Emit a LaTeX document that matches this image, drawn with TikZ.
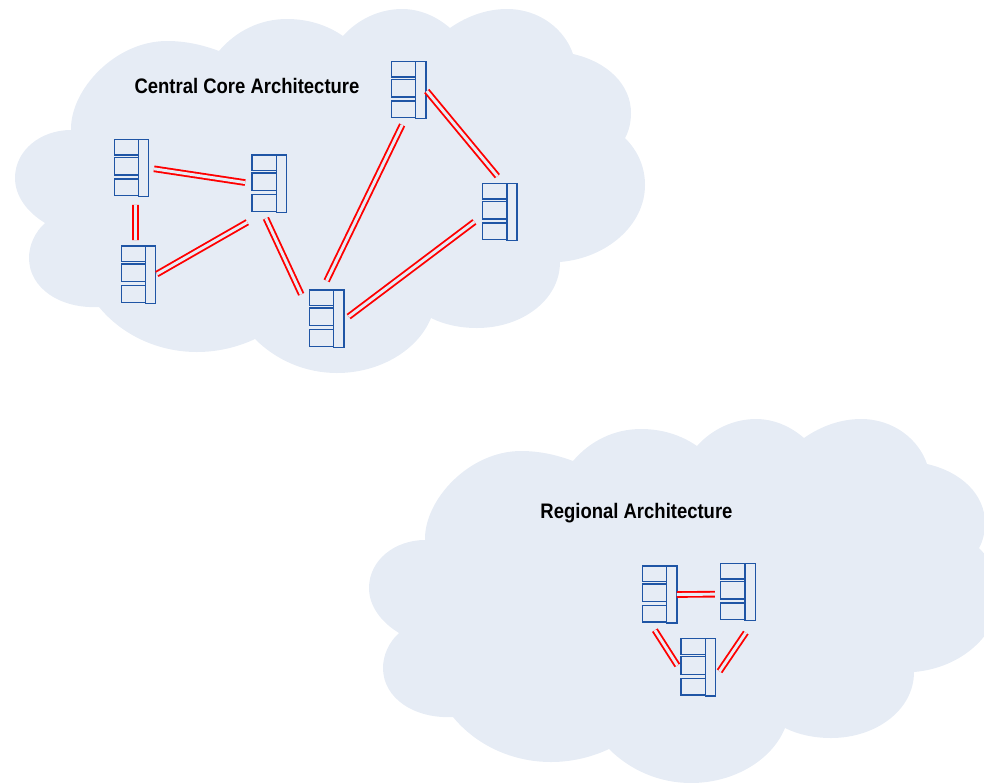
\documentclass[tikz,border=0pt]{standalone}
\usepackage{fontspec}
\usepackage{xcolor}
\usepackage{tikz}
\setmainfont{Liberation Sans}
\newfontfamily\titlefont[FakeStretch=0.88]{Liberation Sans}
\definecolor{cloudblue}{HTML}{E6ECF5}
\definecolor{serverblue}{HTML}{1F55A5}
\tikzset{
  cloudfill/.style={fill=cloudblue},
  serverbase/.style={rectangle, minimum width=25.8pt, minimum height=43pt, inner sep=0pt, outer sep=0pt},
  serverline/.style={serverblue, line width=1pt},
  link/.style 2 args={red, line width=1.4pt, double=cloudblue, double distance=2.2pt, shorten <=#1pt, shorten >=#2pt},
  title/.style={font=\titlefont\bfseries\fontsize{15.75}{18}\selectfont, text=black, inner sep=0pt, anchor=base}
}
\newcommand{\cloudblob}[1]{%
  \fill[cloudfill, shift={(#1)}] (71,130)
    .. controls (70,90) and (115,41) .. (167,41)
    .. controls (186,41) and (203,45) .. (219,51)
    .. controls (236,31) and (260,19) .. (287,19)
    .. controls (308,19) and (327,25) .. (343,36)
    .. controls (358,19) and (380,9) .. (402,9)
    .. controls (418,9) and (435,15) .. (450,28)
    .. controls (467,16) and (487,9) .. (507,9)
    .. controls (540,9) and (565,30) .. (573,54)
    .. controls (608,62) and (631,85) .. (631,113)
    .. controls (631,122) and (629,131) .. (625,138)
    .. controls (638,151) and (645,167) .. (645,185)
    .. controls (645,225) and (607,258) .. (560,262)
    .. controls (560,300) and (522,328) .. (477,328)
    .. controls (461,328) and (445,325) .. (431,318)
    .. controls (418,350) and (380,373) .. (337,373)
    .. controls (305,373) and (276,360) .. (255,339)
    .. controls (238,347) and (218,352) .. (197,352)
    .. controls (158,352) and (122,335) .. (99,307)
    .. controls (60,309) and (29,288) .. (29,258)
    .. controls (29,245) and (35,232) .. (45,223)
    .. controls (27,212) and (15,196) .. (15,178)
    .. controls (15,150) and (41,130) .. (71,130) -- cycle;}
\newcommand{\serverunit}[2]{%
  \node[serverbase] (#1) at (#2) {};
  \begin{scope}[shift={(#1.north west)}]
    \draw[serverline] (0,0) rectangle (24.3,15.7);
    \draw[serverline] (0,18) rectangle (24.3,35.7);
    \draw[serverline] (0,39.7) rectangle (24.3,56.3);
    \draw[serverline] (24.3,0) rectangle (34.4,57.3);
  \end{scope}}

\begin{document}
\begin{tikzpicture}[x=0.75pt, y=-0.75pt]
  \path[use as bounding box, clip] (0,0) rectangle (984,782);
  % Clouds
  \cloudblob{0,0}
  \cloudblob{354,410}
  \node[title] (coreTitle) at (247,93) {Central Core Architecture};
  \node[title] (regionTitle) at (636.5,518) {Regional Architecture};
  % Central core servers
  \serverunit{srvA}{131.5,168}
  \serverunit{srvB}{269.2,183.6}
  \serverunit{srvC}{138.5,274.7}
  \serverunit{srvD}{408.7,90}
  \serverunit{srvE}{499.8,212}
  \serverunit{srvF}{326.7,318.7}
  % Regional servers
  \serverunit{srvG}{659.7,594.5}
  \serverunit{srvH}{738,592}
  \serverunit{srvI}{698.3,667.3}
  % Central core links
  \draw[link={4}{5.2}] (srvA.east) -- (srvB.west);
  \draw[link={6.2}{4.5}] (srvA.-82.1) -- (srvC.96);
  \draw[link={1}{15}] (srvC.east) -- (srvB.261.6);
  \draw[link={5}{14.7}] (srvB.258.1) -- (srvF.159.6);
  \draw[link={7.7}{5.2}] (srvF.99.4) -- (srvD.263.6);
  \draw[link={1}{7}] (srvD.east) -- (srvE.83.3);
  \draw[link={4.5}{7.7}] (srvF.-5.3) -- (srvE.192.2);
  % Regional links
  \draw[link={0}{4.5}] (srvG.east) -- (srvH.187.6);
  \draw[link={6.2}{5.2}] (srvG.252.3) -- (srvI.193.3);
  \draw[link={5.4}{10.8}] (srvI.-30.9) -- (srvH.-61.3);
\end{tikzpicture}
\end{document}
